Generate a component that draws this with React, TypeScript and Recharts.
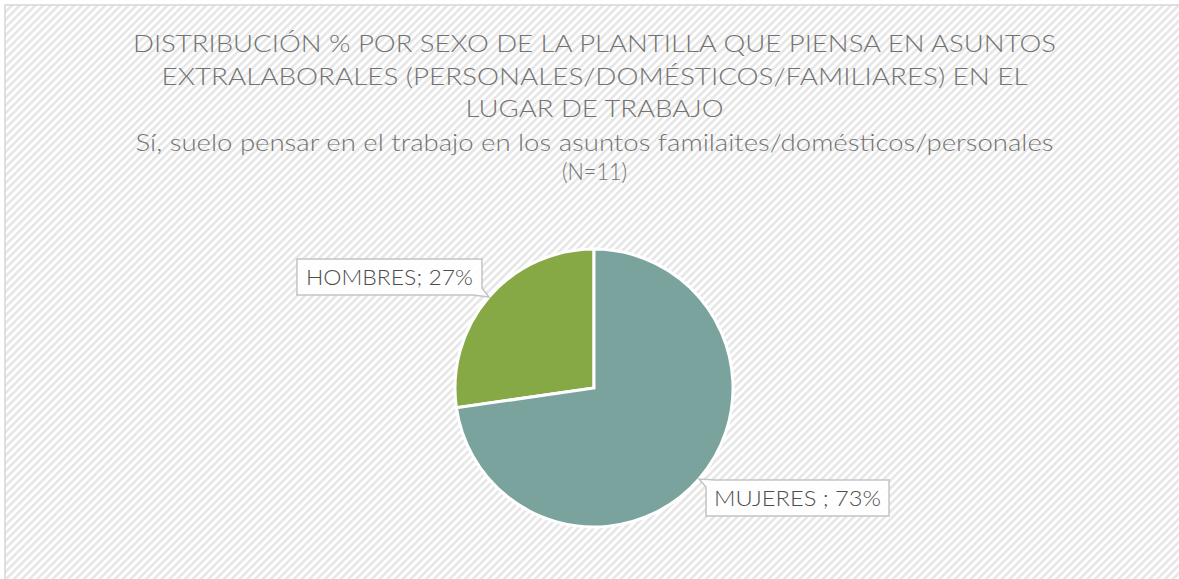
import React from 'react';
import { PieChart, Pie, Cell } from 'recharts';

const categories = ['HOMBRES', 'MUJERES'];
const values = [3, 8]; // counts out of N=11 (27% / 73%)
const labelTexts = ['HOMBRES; 27%', 'MUJERES ; 73%'];
const colors = ['#86a845', '#7aa39e'];

const titleLines = [
  'DISTRIBUCIÓN % POR SEXO DE LA PLANTILLA QUE PIENSA EN ASUNTOS',
  'EXTRALABORALES (PERSONALES/DOMÉSTICOS/FAMILIARES)  EN EL',
  'LUGAR DE TRABAJO',
];
const subtitleLines = [
  'Sí, suelo pensar en el trabajo en los asuntos familaites/domésticos/personales',
  '(N=11)',
];

const data = categories.map((c, i) => ({ name: c, value: values[i], label: labelTexts[i] }));

const W = 1179;
const H = 579;
const FONT = 'Lato, "Open Sans", sans-serif';

const RADIAN = Math.PI / 180;

const renderLabel = (props: any) => {
  const { cx, cy, midAngle, outerRadius, index } = props;
  const tx = cx + outerRadius * Math.cos(-midAngle * RADIAN);
  const ty = cy + outerRadius * Math.sin(-midAngle * RADIAN);
  const text = labelTexts[index];
  const bw = index === 0 ? 185 : 183;
  const bh = 36;
  const textLen = 167;
  if (tx < cx) {
    const right = tx - 7;
    const bottom = ty - 2;
    const left = right - bw;
    const top = bottom - bh;
    const d = `M${left},${top} L${right},${top} L${right},${bottom - 7} L${tx},${ty} L${right - 9},${bottom} L${left},${bottom} Z`;
    return (
      <g key={`lbl-${index}`}>
        <path d={d} fill="#ffffff" fillOpacity={0.9} stroke="#c4c4c4" strokeWidth={1.5} />
        <text x={(left + right) / 2} y={top + bh / 2 + 8} textAnchor="middle" fontFamily={FONT}
          fontSize={22} fontWeight={300} fill="#4d4d4d" textLength={textLen} lengthAdjust="spacingAndGlyphs">{text}</text>
      </g>
    );
  }
  const left = tx + 7;
  const top = ty + 1;
  const right = left + bw;
  const bottom = top + bh;
  const d = `M${left + 9},${top} L${right},${top} L${right},${bottom} L${left},${bottom} L${left},${top + 7} L${tx},${ty} Z`;
  return (
    <g key={`lbl-${index}`}>
      <path d={d} fill="#ffffff" fillOpacity={0.9} stroke="#c4c4c4" strokeWidth={1.5} />
      <text x={(left + right) / 2} y={top + bh / 2 + 8} textAnchor="middle" fontFamily={FONT}
        fontSize={22} fontWeight={300} fill="#4d4d4d" textLength={textLen} lengthAdjust="spacingAndGlyphs">{text}</text>
    </g>
  );
};

export default function App() {
  const titleY = [52, 85, 117];
  const titleLen = [923, 866, 258];
  const subY = [151, 180];
  const subLen = [918, 65];
  return (
    <div style={{ position: 'absolute', left: 0, top: 0, width: W, height: H, overflow: 'hidden', background: '#fff' }}>
      <svg width={W} height={H} style={{ position: 'absolute', left: 0, top: 0 }}>
        <defs>
          <pattern id="stripes" width="5.5" height="5.5" patternUnits="userSpaceOnUse" patternTransform="rotate(45)">
            <rect x="0" y="0" width="5.5" height="5.5" fill="#ffffff" />
            <rect x="0" y="0" width="2.6" height="5.5" fill="#e6e6e6" />
          </pattern>
        </defs>
        <rect x={5} y={5} width={W + 10} height={H + 10} fill="url(#stripes)" stroke="#d6d6d6" strokeWidth={1.5} />
        {titleLines.map((t, i) => (
          <text key={`t${i}`} x={594.5} y={titleY[i]} textAnchor="middle" fontFamily={FONT} fontSize={23}
            fontWeight={300} fill="#737373" textLength={titleLen[i]} lengthAdjust="spacingAndGlyphs">{t}</text>
        ))}
        {subtitleLines.map((t, i) => (
          <text key={`s${i}`} x={594.5} y={subY[i]} textAnchor="middle" fontFamily={FONT} fontSize={23}
            fontWeight={300} fill="#737373" textLength={subLen[i]} lengthAdjust="spacingAndGlyphs">{t}</text>
        ))}
      </svg>
      <div style={{ position: 'absolute', left: 0, top: 0 }}>
        <PieChart width={W} height={H} margin={{ top: 0, right: 0, bottom: 0, left: 0 }}>
          <Pie
            data={data}
            dataKey="value"
            nameKey="name"
            cx={594}
            cy={388}
            outerRadius={139}
            startAngle={90}
            endAngle={450}
            stroke="#ffffff"
            strokeWidth={3}
            label={renderLabel}
            labelLine={false}
            isAnimationActive={false}
          >
            {data.map((d, i) => (
              <Cell key={d.name} fill={colors[i]} />
            ))}
          </Pie>
        </PieChart>
      </div>
    </div>
  );
}
